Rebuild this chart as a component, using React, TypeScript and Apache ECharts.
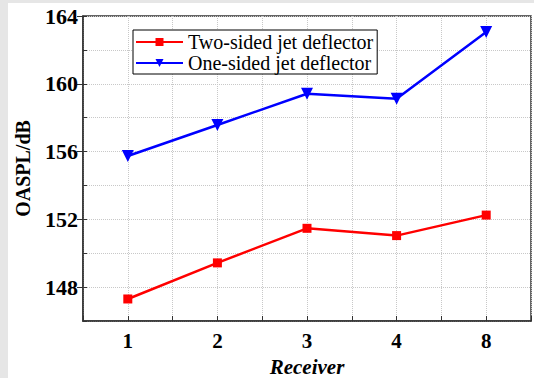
import React, { useEffect, useRef } from "react";
import * as echarts from "echarts";

const receivers = ["1", "2", "3", "4", "8"];
const twoSided = [147.3, 149.43, 151.47, 151.04, 152.25];
const oneSided = [155.74, 157.57, 159.41, 159.12, 163.06];
const yMajorTicks = [148, 152, 156, 160, 164];

const FONT = "'Liberation Serif', 'Times New Roman', serif";

export default function App() {
  const ref = useRef<HTMLDivElement>(null);
  useEffect(() => {
    if (!ref.current) return;
    const chart = echarts.init(ref.current, undefined, { renderer: "svg" });
    const toPts = (arr: number[]) => arr.map((v, i) => [i + 1, v]);
    const option: any = {
      animation: false,
      backgroundColor: "#ffffff",
      grid: {
        left: 75,
        top: 13,
        right: 3,
        bottom: 57,
        outerBoundsMode: "none",
        containLabel: false,
        show: true,
        borderColor: "#333",
        borderWidth: 1.5,
        backgroundColor: "#fff",
      },
      legend: {
        orient: "vertical",
        left: 125,
        top: 27,
        borderColor: "#000",
        borderWidth: 1,
        backgroundColor: "#fff",
        padding: [2, 4, 1, 2],
        itemGap: 1,
        itemWidth: 47,
        itemHeight: 10,
        textStyle: { fontFamily: FONT, fontSize: 20, color: "#000" },
        data: ["Two-sided jet deflector", "One-sided jet deflector"],
      },
      xAxis: {
        type: "value",
        min: 0.5,
        max: 5.5,
        interval: 0.5,
        name: "Receiver",
        nameLocation: "middle",
        nameGap: 35,
        nameTextStyle: {
          fontFamily: FONT,
          fontSize: 21,
          fontWeight: "bold",
          fontStyle: "italic",
          color: "#000",
        },
        axisLine: { show: true, lineStyle: { color: "#333", width: 1.5 } },
        axisTick: { show: true, inside: true, length: 5, lineStyle: { color: "#333", width: 1 } },
        axisLabel: {
          show: true,
          showMinLabel: true,
          showMaxLabel: true,
          hideOverlap: false,
          margin: 9,
          fontFamily: FONT,
          fontSize: 21,
          fontWeight: "bold",
          color: "#000",
          formatter: (v: number) =>
            Math.abs(v - Math.round(v)) < 1e-6 && v >= 1 && v <= receivers.length
              ? receivers[Math.round(v) - 1]
              : "",
        },
        splitLine: { show: true, lineStyle: { color: "#c8c8c8", type: "dotted", width: 1 } },
      },
      yAxis: [
        {
          type: "value",
          min: 146,
          max: 164,
          interval: 2,
          name: "OASPL/dB",
          nameLocation: "middle",
          nameGap: 50,
          nameTextStyle: { fontFamily: FONT, fontSize: 20, fontWeight: "bold", color: "#000" },
          axisLine: { show: true, lineStyle: { color: "#333", width: 1.5 } },
          axisTick: { show: true, inside: true, length: 4, lineStyle: { color: "#333", width: 1 } },
          axisLabel: {
            show: true,
            showMinLabel: true,
            showMaxLabel: true,
            hideOverlap: false,
            margin: 5,
            fontFamily: FONT,
            fontSize: 22,
            fontWeight: "bold",
            color: "#000",
            formatter: (v: number) => (Math.round(v) % 4 === 0 ? String(Math.round(v)) : ""),
          },
          splitLine: { show: true, lineStyle: { color: "#c8c8c8", type: "dotted", width: 1 } },
        },
        {
          type: "value",
          min: 146,
          max: 164,
          interval: 2,
          position: "left",
          axisLine: { show: false },
          axisLabel: { show: false },
          splitLine: { show: false },
          axisTick: {
            show: true,
            inside: false,
            length: 6,
            customValues: yMajorTicks,
            lineStyle: { color: "#333", width: 1 },
          },
        },
      ],
      series: [
        {
          name: "Two-sided jet deflector",
          type: "line",
          yAxisIndex: 0,
          data: toPts(twoSided),
          symbol: "rect",
          symbolSize: 9,
          lineStyle: { color: "#ff0000", width: 2.5 },
          itemStyle: { color: "#ff0000" },
        },
        {
          name: "One-sided jet deflector",
          type: "line",
          yAxisIndex: 0,
          data: toPts(oneSided),
          symbol: "triangle",
          symbolRotate: 180,
          symbolSize: 12,
          lineStyle: { color: "#0000ff", width: 2.5 },
          itemStyle: { color: "#0000ff" },
        },
      ],
    };
    chart.setOption(option);
    return () => chart.dispose();
  }, []);
  return (
    <div
      style={{
        position: "fixed",
        left: 0,
        top: 0,
        width: 534,
        height: 378,
        background: "#e6e6e6",
        overflow: "hidden",
      }}
    >
      <div
        ref={ref}
        style={{ position: "absolute", left: 8, top: 3, width: 526, height: 375, background: "#fff" }}
      />
    </div>
  );
}
